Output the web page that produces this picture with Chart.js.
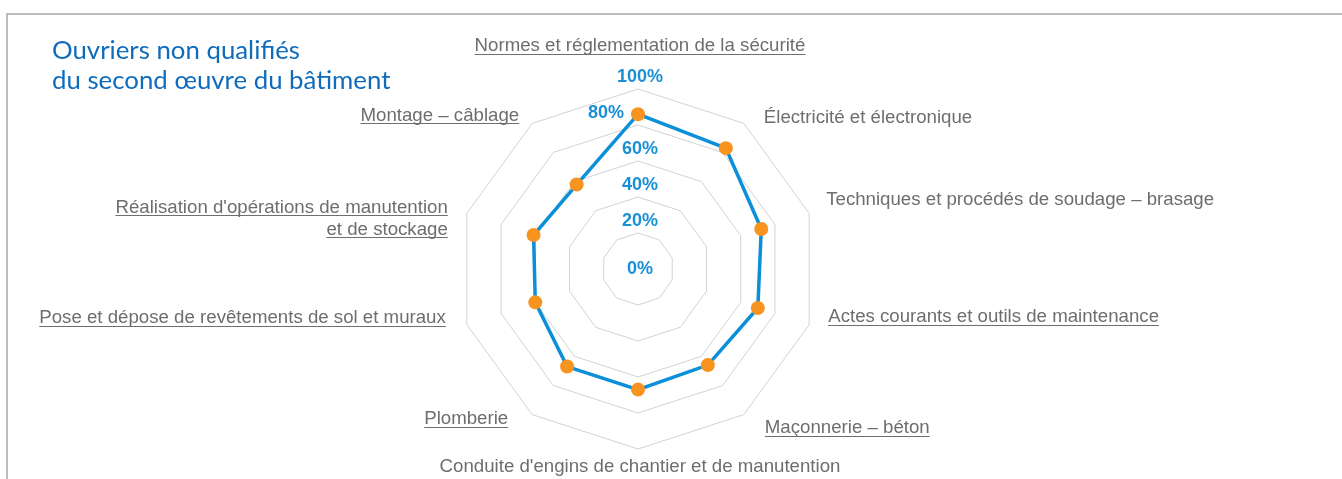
<!DOCTYPE html>
<html>
<head>
<meta charset="utf-8">
<script src="https://cdn.jsdelivr.net/npm/chart.js@4.4.1/dist/chart.umd.min.js"></script>
<style>
  html, body { margin: 0; padding: 0; background: #fff; }
  #wrap { position: relative; width: 1342px; height: 479px; overflow: hidden; }
  #frame { position: absolute; left: 6px; top: 13px; right: -4px; bottom: -4px;
           border-top: 2px solid #bdbdbd; border-left: 2px solid #bdbdbd; }
  #title { position: absolute; left: 52px; top: 34px; font-family: "Lato", sans-serif;
           font-size: 25.8px; line-height: 30px; color: #0f6cbd; white-space: nowrap; }
  #c { position: absolute; left: 0; top: 0; }
</style>
</head>
<body>
<div id="wrap">
  <div id="frame"></div>
  <canvas id="c" width="1342" height="479"></canvas>
  <div id="title">Ouvriers non qualifiés<br>du second œuvre du bâtiment</div>
</div>
<script>
const categories = [
  "Normes et réglementation de la sécurité",
  "Électricité et électronique",
  "Techniques et procédés de soudage – brasage",
  "Actes courants et outils de maintenance",
  "Maçonnerie – béton",
  "Conduite d'engins de chantier et de manutention",
  "Plomberie",
  "Pose et dépose de revêtements de sol et muraux",
  ["Réalisation d'opérations de manutention", "et de stockage"],
  "Montage – câblage"
];
const underlined = [true, false, false, true, true, false, true, true, true, true];
const values = [86, 83, 72, 70, 66, 67, 67, 60, 61, 58];
const tickValues = [0, 20, 40, 60, 80, 100];

const LABEL_FONT = '18.67px "Liberation Sans", Arial, sans-serif';
const TICK_FONT = 'bold 18px "Liberation Sans", Arial, sans-serif';

// label placement tweaks (style only): horizontal gap and vertical shift per label
const labelStyle = {
  gap:    [0, 20, 17, 19, 21, 0, 24, 21, 19, 13],
  vshift: [-43, -6, -14, -8, 13, 18, 4, -7, 5, -8]
};

const customLabels = {
  id: 'customLabels',
  beforeDatasetsDraw(chart) {
    const s = chart.scales.r;
    const ctx = chart.ctx;
    ctx.save();
    ctx.font = TICK_FONT;
    ctx.fillStyle = '#1a8fd6';
    ctx.textAlign = 'center';
    ctx.textBaseline = 'middle';
    s.ticks.forEach(t => {
      if (!tickValues.includes(t.value)) return;
      const d = s.getDistanceFromCenterForValue(t.value);
      const nudge = t.value === 80 ? -32 : 2;
      const y = t.value === 0 ? s.yCenter : s.yCenter - d - 12;
      ctx.fillText(t.value + '%', s.xCenter + nudge, y);
    });
    ctx.restore();
  },
  afterDraw(chart) {
    const s = chart.scales.r;
    const ctx = chart.ctx;
    const n = categories.length;
    ctx.save();
    ctx.font = LABEL_FONT;
    ctx.fillStyle = '#6e6e6e';
    ctx.strokeStyle = '#6e6e6e';
    ctx.lineWidth = 1;
    const lh = 22;
    for (let i = 0; i < n; i++) {
      const p = s.getPointPosition(i, s.drawingArea);
      const ang = (360 / n) * i;
      const lines = Array.isArray(categories[i]) ? categories[i] : [categories[i]];
      let x, align;
      const y = p.y + labelStyle.vshift[i];
      if (ang === 0 || ang === 180) { align = 'center'; x = p.x + 2; }
      else if (ang < 180) { align = 'left'; x = p.x + labelStyle.gap[i]; }
      else { align = 'right'; x = p.x - labelStyle.gap[i]; }
      ctx.textAlign = align;
      ctx.textBaseline = 'middle';
      const y0 = y - (lines.length - 1) * lh / 2;
      lines.forEach((ln, k) => {
        const yy = y0 + k * lh;
        ctx.fillText(ln, x, yy);
        if (underlined[i]) {
          const w = ctx.measureText(ln).width;
          const x1 = align === 'left' ? x : align === 'right' ? x - w : x - w / 2;
          ctx.beginPath();
          ctx.moveTo(x1, Math.round(yy + 8) + 0.5);
          ctx.lineTo(x1 + w, Math.round(yy + 8) + 0.5);
          ctx.stroke();
        }
      });
    }
    ctx.restore();
  }
};

new Chart(document.getElementById('c'), {
  type: 'radar',
  data: {
    labels: categories,
    datasets: [{
      data: values,
      borderColor: '#0a8fd8',
      borderWidth: 3.5,
      backgroundColor: 'transparent',
      fill: false,
      pointRadius: 7,
      pointHoverRadius: 7,
      pointBackgroundColor: '#f7931e',
      pointBorderColor: '#f7931e',
      pointBorderWidth: 0,
      tension: 0
    }]
  },
  options: {
    responsive: false,
    animation: false,
    events: [],
    layout: { padding: { top: 89, bottom: 30, left: 0, right: 66 } },
    plugins: { legend: { display: false }, title: { display: false }, tooltip: { enabled: false } },
    scales: {
      r: {
        min: 0,
        max: 100,
        ticks: { stepSize: 20, display: false },
        grid: { color: '#d2d2d2', lineWidth: 1 },
        angleLines: { display: false },
        pointLabels: { display: false }
      }
    }
  },
  plugins: [customLabels]
});
</script>
</body>
</html>
